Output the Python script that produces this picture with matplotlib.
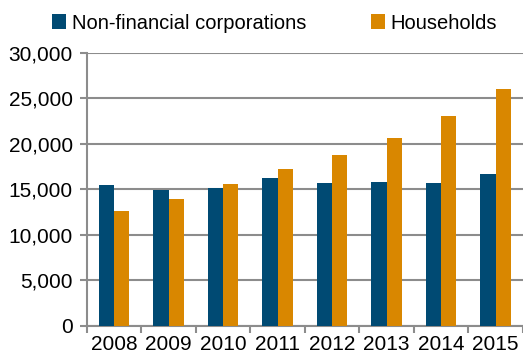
import matplotlib
matplotlib.use("Agg")
import matplotlib.pyplot as plt
from matplotlib.ticker import FuncFormatter, FixedLocator
import numpy as np

# Values by year, two sectors
years = ['2008', '2009', '2010', '2011', '2012', '2013', '2014', '2015']
corporations = [15500, 14950, 15150, 16200, 15750, 15800, 15750, 16650]
households = [12650, 13950, 15600, 17250, 18800, 20600, 23100, 26000]

blue = '#004a73'
orange = '#d98700'
grey = '#8c8c8c'

plt.rcParams['font.family'] = ['Liberation Sans', 'DejaVu Sans']

fig = plt.figure(figsize=(5.23, 3.56), dpi=100)
ax = fig.add_axes([0.166, 0.085, 0.834, 0.766])

x = np.arange(len(years))
w = 0.28
ax.bar(x - w / 2, corporations, width=w, color=blue, label='Non-financial corporations', zorder=3)
ax.bar(x + w / 2, households, width=w, color=orange, label='Households', zorder=3)

ax.set_xlim(-0.5, len(years) - 0.5)
ax.set_ylim(0, 30000)
ax.set_yticks(range(0, 30001, 5000))
ax.yaxis.set_major_formatter(FuncFormatter(lambda v, p: f'{int(v):,}'))
ax.grid(axis='y', color=grey, linewidth=1.5, zorder=0)

ax.set_xticks(x)
ax.set_xticklabels(years)
ax.xaxis.set_minor_locator(FixedLocator(np.arange(-0.5, len(years), 1.0)))
ax.tick_params(axis='x', which='major', length=0, pad=7, labelsize=15)
ax.tick_params(axis='x', which='minor', length=5, width=1.5, color=grey)
ax.tick_params(axis='y', length=5, width=1.5, color=grey, labelsize=15, pad=5)

for s in ['top', 'right']:
    ax.spines[s].set_visible(False)
for s in ['left', 'bottom']:
    ax.spines[s].set_color(grey)
    ax.spines[s].set_linewidth(1.5)

ax.legend(loc='center', bbox_to_anchor=(0.43, 1.11), ncol=2, frameon=False,
          fontsize=14.5, handlelength=0.7, handleheight=0.7, handletextpad=0.3,
          columnspacing=3.2, borderaxespad=0)

fig.savefig('out.png', dpi=100)
